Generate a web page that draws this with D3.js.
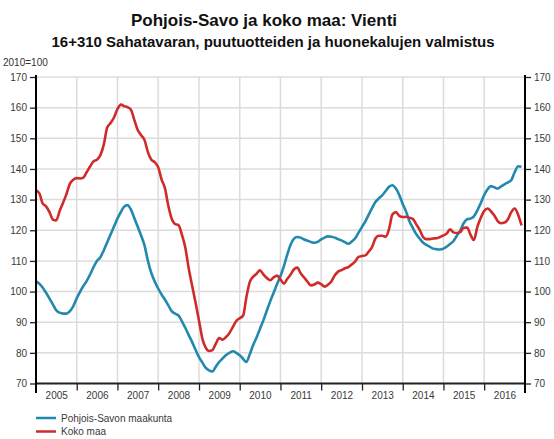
<!DOCTYPE html>
<html>
<head>
<meta charset="utf-8">
<script src="https://cdn.jsdelivr.net/npm/d3@7"></script>
<style>
  html, body { margin: 0; padding: 0; background: #fff; }
  svg { display: block; font-family: "Liberation Sans", Arial, sans-serif; }
</style>
</head>
<body>
<svg id="chart" width="554" height="439"></svg>
<script>
// Monthly index values, Jan 2005 – Dec 2016 (2010 = 100)
const startYear = 2005;
const pohjoisSavo = [
  103.3,102.5,101.3,99.6,97.8,95.8,93.9,93.1,92.8,92.8,93.6,95.2,
  97.8,100.0,101.8,103.5,105.6,108.0,110.0,111.2,113.5,116.0,118.7,121.2,
  123.8,126.0,127.6,128.2,126.8,124.0,121.2,118.3,115.0,110.0,106.0,103.3,
  101.0,99.0,97.4,95.5,93.6,92.8,92.2,90.3,88.1,85.8,83.5,81.0,
  78.6,76.8,75.2,74.3,73.9,75.5,77.0,78.2,79.3,80.0,80.5,80.0,
  79.2,78.0,77.0,79.5,82.5,85.0,87.8,90.6,93.8,96.8,99.6,102.4,
  105.0,108.3,111.8,115.2,117.2,117.8,117.6,117.0,116.6,116.2,115.9,116.2,
  117.0,117.6,118.0,117.9,117.6,117.1,116.7,116.1,115.6,116.3,117.4,119.2,
  121.1,123.0,125.0,127.2,129.2,130.4,131.4,132.8,134.2,134.7,133.6,131.5,
  128.6,126.0,123.0,120.8,118.8,117.3,116.0,115.2,114.6,114.0,113.8,113.7,
  114.0,114.7,115.5,116.5,118.2,120.0,122.3,123.6,123.8,124.5,126.5,128.8,
  131.5,133.4,134.4,134.0,133.6,134.3,135.0,135.6,136.4,139.0,140.9,140.7
];
const kokoMaa = [
  133.1,132.0,128.8,127.8,126.0,123.5,123.2,126.3,129.0,131.8,135.2,136.5,
  137.0,136.9,137.2,139.0,140.8,142.5,143.0,144.5,148.0,153.5,155.0,156.8,
  159.5,161.0,160.5,160.2,159.4,156.0,152.8,151.0,149.4,145.5,143.0,142.2,
  140.6,136.5,133.8,128.0,123.8,122.0,121.7,118.5,114.2,107.5,101.8,96.4,
  90.5,84.5,81.8,80.6,80.9,83.0,84.8,84.3,85.2,86.5,88.5,90.4,
  91.3,92.2,98.0,103.1,104.8,105.8,106.9,105.6,104.4,103.7,104.6,105.2,
  104.0,102.6,104.0,105.5,107.2,107.8,106.0,104.6,103.2,102.0,102.3,102.9,
  102.4,101.6,102.2,103.3,105.2,106.5,107.0,107.6,108.0,108.8,109.8,111.3,
  111.6,111.8,113.0,114.5,117.3,118.2,118.2,117.9,120.5,125.2,125.9,124.7,
  124.3,124.4,124.1,123.7,122.0,120.2,117.9,117.1,117.1,117.3,117.4,117.8,
  118.3,119.0,120.3,119.3,119.1,119.4,120.8,120.9,118.5,116.8,121.1,124.0,
  126.3,127.1,126.2,124.8,123.0,122.3,122.5,123.6,126.0,127.1,125.0,121.6
];
const yearLabels = ["2005","2006","2007","2008","2009","2010","2011","2012","2013","2014","2015","2016"];
const yTicks = [70,80,90,100,110,120,130,140,150,160,170];
const seriesNames = ["Pohjois-Savon maakunta", "Koko maa"];
const seriesColors = ["#2189ad", "#d02b2b"];
const titleText = "Pohjois-Savo ja koko maa: Vienti";
const subtitleText = "16+310 Sahatavaran, puutuotteiden ja huonekalujen valmistus";
const unitText = "2010=100";

const svg = d3.select("#chart");
const plotLeft = 36, plotRight = 525, plotTop = 77, plotBottom = 383.5;

const x = d3.scaleTime()
  .domain([new Date(startYear, 0, 1), new Date(startYear + yearLabels.length, 0, 1)])
  .range([plotLeft, plotRight]);
const y = d3.scaleLinear().domain([70, 170]).range([plotBottom, plotTop]);

const monthDate = i => new Date(startYear, i, 1);

// Titles
svg.append("text").attr("x", 264).attr("y", 26).attr("text-anchor", "middle")
  .attr("font-size", 17).attr("font-weight", "bold").attr("fill", "#111").text(titleText);
svg.append("text").attr("x", 273).attr("y", 47).attr("text-anchor", "middle")
  .attr("font-size", 15).attr("font-weight", "bold").attr("fill", "#111").text(subtitleText);
svg.append("text").attr("x", 3).attr("y", 66)
  .attr("font-size", 10).attr("fill", "#333").text(unitText);

// Grid
const grid = svg.append("g").attr("stroke", "#dcdcdc").attr("stroke-width", 1.5);
grid.selectAll("line.h").data(yTicks.filter(v => v > 70)).join("line")
  .attr("x1", plotLeft).attr("x2", plotRight)
  .attr("y1", d => y(d)).attr("y2", d => y(d));
const yearBounds = d3.range(1, yearLabels.length).map(k => new Date(startYear + k, 0, 1));
grid.selectAll("line.v").data(yearBounds).join("line")
  .attr("x1", d => x(d)).attr("x2", d => x(d))
  .attr("y1", plotTop).attr("y2", plotBottom);

// Series lines
const line = d3.line().x((d, i) => x(monthDate(i))).y(d => y(d)).curve(d3.curveMonotoneX);
[pohjoisSavo, kokoMaa].forEach((s, k) => {
  svg.append("path").datum(s).attr("fill", "none")
    .attr("stroke", seriesColors[k]).attr("stroke-width", 2.6)
    .attr("stroke-linejoin", "round").attr("d", line);
});

// Y axes on both sides
function styleAxis(g) {
  g.select(".domain").remove();
  g.selectAll(".tick line").attr("stroke", "#222").attr("stroke-width", 1.3);
  g.selectAll(".tick text").attr("fill", "#3a3a3a").attr("font-size", 10)
    .attr("font-family", "'Liberation Sans', Arial, sans-serif");
}
svg.append("g").attr("transform", `translate(${plotLeft},0)`)
  .call(d3.axisLeft(y).tickValues(yTicks).tickSize(6).tickPadding(3))
  .call(styleAxis);
svg.append("g").attr("transform", `translate(${plotRight},0)`)
  .call(d3.axisRight(y).tickValues(yTicks).tickSize(6).tickPadding(3))
  .call(styleAxis);

// X axis: tick marks at year boundaries, labels mid-year
svg.append("g").attr("transform", `translate(0,${plotBottom})`)
  .call(d3.axisBottom(x).tickValues(yearBounds).tickSize(7).tickFormat(""))
  .call(styleAxis);
svg.append("g").attr("transform", `translate(0,${plotBottom})`)
  .call(d3.axisBottom(x)
    .tickValues(yearLabels.map(l => new Date(+l, 6, 1)))
    .tickSize(0).tickPadding(8)
    .tickFormat((d, i) => yearLabels[i]))
  .call(styleAxis);

// Frame lines
svg.append("line").attr("x1", plotLeft).attr("x2", plotRight)
  .attr("y1", plotBottom).attr("y2", plotBottom)
  .attr("stroke", "#222").attr("stroke-width", 2);
[plotLeft, plotRight].forEach(px => {
  svg.append("line").attr("x1", px).attr("x2", px).attr("y1", plotTop - 2).attr("y2", 393)
    .attr("stroke", "#000").attr("stroke-width", 2);
});

// Legend
const legend = svg.append("g");
seriesNames.forEach((name, k) => {
  const ly = 418 + k * 13.5;
  legend.append("line").attr("x1", 36).attr("x2", 56).attr("y1", ly).attr("y2", ly)
    .attr("stroke", seriesColors[k]).attr("stroke-width", 2.5);
  legend.append("text").attr("x", 61).attr("y", ly + 3.5).attr("font-size", 10)
    .attr("fill", "#3a3a3a").text(name);
});
</script>
</body>
</html>
